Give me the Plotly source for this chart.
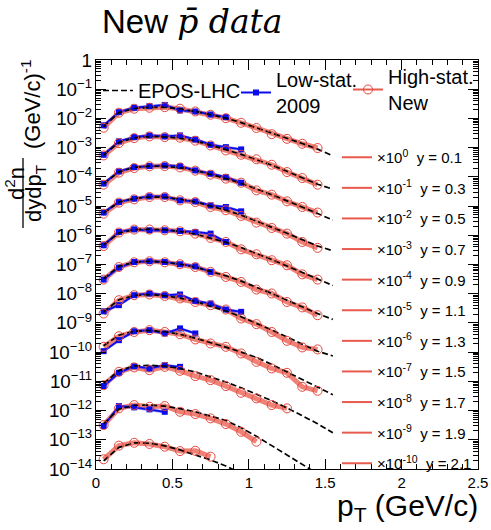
import plotly.graph_objects as go

# ---------------- data ----------------
pt_data = [0.05, 0.15, 0.25, 0.35, 0.45, 0.55, 0.65, 0.75, 0.85, 0.95,
           1.05, 1.15, 1.25, 1.35, 1.45]
pt_epos = [0.05, 0.15, 0.25, 0.35, 0.45, 0.55, 0.65, 0.75, 0.85, 0.95,
           1.05, 1.15, 1.25, 1.35, 1.45, 1.55]
rapidity = [0.1, 0.3, 0.5, 0.7, 0.9, 1.1, 1.3, 1.5, 1.7, 1.9, 2.1]
scale_exp = [0, -1, -2, -3, -4, -5, -6, -7, -8, -9, -10]

# High-stat. New (unscaled d2n/dydpT, one list per rapidity bin)
high_stat_new = [
    [4.8e-3, 1.57e-2, 2.15e-2, 2.32e-2, 2.43e-2, 2.15e-2, 1.73e-2, 1.34e-2, 1.02e-2, 7.1e-3, 4.7e-3, 2.9e-3, 2.0e-3, 1.36e-3, 9.7e-4],
    [5.4e-3, 1.43e-2, 2.12e-2, 2.43e-2, 2.30e-2, 2.19e-2, 1.73e-2, 1.19e-2, 8.0e-3, 5.7e-3, 4.0e-3, 2.6e-3, 1.46e-3, 9.1e-4, 5.4e-4],
    [5.4e-3, 1.39e-2, 2.0e-2, 2.29e-2, 2.34e-2, 2.11e-2, 1.63e-2, 1.19e-2, 8.7e-3, 6.3e-3, 3.45e-3, 2.46e-3, 1.45e-3, 9.3e-4, 6.0e-4],
    [5.5e-3, 1.31e-2, 1.70e-2, 2.04e-2, 2.04e-2, 1.57e-2, 1.37e-2, 9.3e-3, 7.2e-3, 4.6e-3, 2.72e-3, 1.78e-3, 1.14e-3, 5.9e-4, 3.7e-4],
    [4.3e-3, 1.24e-2, 1.57e-2, 1.57e-2, 1.48e-2, 1.37e-2, 1.14e-2, 8.1e-3, 5.9e-3, 3.3e-3, 2.24e-3, 1.40e-3, 9.4e-4, 4.6e-4, 3.05e-4],
    [3.05e-3, 8.2e-3, 1.19e-2, 1.29e-2, 1.19e-2, 1.02e-2, 8.2e-3, 5.6e-3, 3.75e-3, 2.53e-3, 1.39e-3, 1.02e-3, 5.2e-4, 3.4e-4, 1.84e-4],
    [2.1e-3, 6.0e-3, 8.9e-3, 9.4e-3, 8.4e-3, 6.9e-3, 5.2e-3, 4.05e-3, 2.88e-3, 1.42e-3, 9.1e-4, 4.9e-4, 2.44e-4, 1.45e-4, 1.24e-4],
    [1.52e-3, 3.5e-3, 4.9e-3, 5.65e-3, 4.9e-3, 4.1e-3, 2.72e-3, 1.98e-3, 1.52e-3, 9.0e-4, 4.66e-4, 2.77e-4, 1.96e-4, 6.5e-5, 4.75e-5],
    [7.4e-4, 2.12e-3, 3.0e-3, 2.43e-3, 3.14e-3, 2.30e-3, 1.51e-3, 1.10e-3, 6.9e-4, 4.06e-4, 2.61e-4, 1.54e-4, 1.19e-4],
    [3.2e-4, 1.19e-3, 1.54e-3, 1.35e-3, 1.43e-3, 9.1e-4, 7.6e-4, 5.4e-4, 3.45e-4, 1.88e-4, 8.6e-5],
    [2.15e-4, 6.3e-4, 7.9e-4, 7.2e-4, 5.8e-4, 4.1e-4, 4.2e-4, 2.64e-4],
]

# Low-stat. 2009
low_stat_2009 = [
    [5.8e-3, 1.64e-2, 2.32e-2, 2.64e-2, 2.9e-2, 1.88e-2, 1.73e-2, 1.37e-2, 1.11e-2],
    [5.7e-3, 1.64e-2, 2.30e-2, 2.62e-2, 2.43e-2, 2.62e-2, 1.91e-2, 1.26e-2, 1.04e-2, 8.7e-3],
    [5.9e-3, 1.54e-2, 2.16e-2, 2.34e-2, 2.47e-2, 2.34e-2, 1.67e-2, 1.29e-2, 9.8e-3, 6.3e-3],
    [6.0e-3, 1.37e-2, 1.80e-2, 2.15e-2, 2.15e-2, 1.57e-2, 1.45e-2, 1.06e-2, 9.3e-3, 6.6e-3],
    [4.55e-3, 1.30e-2, 1.60e-2, 1.48e-2, 1.48e-2, 1.40e-2, 1.30e-2, 1.14e-2, 5.9e-3],
    [3.05e-3, 7.85e-3, 1.22e-2, 1.29e-2, 1.22e-2, 1.02e-2, 8.7e-3, 5.6e-3],
    [2.5e-3, 4.05e-3, 8.9e-3, 1.02e-2, 8.9e-3, 9.4e-3, 5.7e-3, 4.6e-3, 2.88e-3, 2.39e-3],
    [1.08e-3, 2.57e-3, 5.2e-3, 5.65e-3, 4.36e-3, 6.5e-3, 4.36e-3],
    [6.9e-4, 1.96e-3, 3.3e-3, 2.77e-3, 3.6e-3, 3.14e-3],
    [2.95e-4, 1.43e-3, 1.29e-3, 1.10e-3, 9.1e-4],
    [],
]

# EPOS-LHC
epos_lhc = [
    [5.25e-3, 1.58e-2, 2.19e-2, 2.40e-2, 2.40e-2, 2.14e-2, 1.74e-2, 1.35e-2, 1.02e-2, 7.2e-3, 4.8e-3, 3.16e-3, 2.09e-3, 1.38e-3, 8.9e-4, 5.25e-4],
    [5.6e-3, 1.51e-2, 2.14e-2, 2.40e-2, 2.34e-2, 2.09e-2, 1.70e-2, 1.23e-2, 8.5e-3, 5.9e-3, 3.9e-3, 2.51e-3, 1.55e-3, 9.3e-4, 5.6e-4, 3.8e-4],
    [5.75e-3, 1.48e-2, 2.09e-2, 2.34e-2, 2.29e-2, 2.04e-2, 1.66e-2, 1.23e-2, 8.7e-3, 6.0e-3, 3.9e-3, 2.45e-3, 1.51e-3, 9.3e-4, 5.6e-4, 3.3e-4],
    [5.75e-3, 1.38e-2, 1.82e-2, 2.04e-2, 2.0e-2, 1.74e-2, 1.38e-2, 1.02e-2, 7.2e-3, 4.9e-3, 3.1e-3, 1.91e-3, 1.17e-3, 7.1e-4, 4.3e-4, 2.95e-4],
    [4.7e-3, 1.20e-2, 1.55e-2, 1.62e-2, 1.55e-2, 1.35e-2, 1.10e-2, 8.1e-3, 5.75e-3, 3.8e-3, 2.4e-3, 1.48e-3, 8.9e-4, 5.25e-4, 3.16e-4, 1.91e-4],
    [3.3e-3, 8.7e-3, 1.20e-2, 1.29e-2, 1.20e-2, 1.02e-2, 8.1e-3, 5.9e-3, 4.1e-3, 2.7e-3, 1.70e-3, 1.02e-3, 6.0e-4, 3.55e-4, 2.09e-4, 1.32e-4],
    [2.4e-3, 6.2e-3, 8.7e-3, 9.3e-3, 8.5e-3, 7.1e-3, 5.4e-3, 3.8e-3, 2.57e-3, 1.62e-3, 9.8e-4, 5.75e-4, 3.3e-4, 1.91e-4, 1.07e-4, 7.4e-5],
    [1.66e-3, 3.8e-3, 5.25e-3, 5.5e-3, 5.0e-3, 4.07e-3, 3.0e-3, 2.14e-3, 1.48e-3, 1.0e-3, 6.6e-4, 3.8e-4, 2.09e-4, 1.15e-4, 6.3e-5, 3.5e-5],
    [8.5e-4, 2.34e-3, 3.4e-3, 3.55e-3, 3.3e-3, 2.75e-3, 2.09e-3, 1.45e-3, 9.5e-4, 6.0e-4, 3.7e-4, 2.19e-4, 1.23e-4, 6.8e-5, 3.55e-5, 1.74e-5],
    [3.5e-4, 1.12e-3, 1.51e-3, 1.55e-3, 1.41e-3, 1.17e-3, 9.1e-4, 6.6e-4, 4.6e-4, 2.57e-4, 1.32e-4, 6.3e-5, 3.0e-5, 1.45e-5, 6.9e-6, 3.3e-6],
    [1.91e-4, 5.5e-4, 7.9e-4, 7.6e-4, 6.2e-4, 4.5e-4, 3.0e-4, 2.04e-4, 1.26e-4, 7.1e-5, 4.0e-5, 2.24e-5, 1.26e-5, 7.1e-6, 4.0e-6, 2.24e-6],
]

low_stat_sys_rel = 0.12   # width of the blue systematic band
low_stat_err_pct = 20     # blue statistical error bars (percent)

# ---------------- styling ----------------
FONT = "Liberation Sans, Arial, Helvetica, sans-serif"
RED_BAND = "rgba(238,118,106,0.92)"
RED_LINE = "rgb(232,90,78)"
RED_MK = "rgb(228,72,62)"
BLUE = "rgb(12,12,235)"
BLUE_BAND = "rgba(70,70,255,0.55)"
DASH = "6px,3px"

# plot area in pixels: x 96..478, y 60..469
L, R, T, B = 96, 13, 60, 61
W, H = 491, 530
PW, PH = W - L - R, H - T - B


def px(x):
    return (x - L) / PW


def py(y):
    return (H - B - y) / PH


fig = go.Figure()

# red (High-stat. New) thick band-like lines
for i, se in enumerate(scale_exp):
    f = 10.0 ** se
    hv = [v * f for v in high_stat_new[i]]
    fig.add_trace(go.Scatter(
        x=pt_data[:len(hv)], y=hv, mode="lines",
        line=dict(color=RED_BAND, width=5),
        showlegend=False, hoverinfo="skip"))

# blue (Low-stat. 2009) band + line + markers
for i, se in enumerate(scale_exp):
    f = 10.0 ** se
    lv = [v * f for v in low_stat_2009[i]]
    if not lv:
        continue
    lx = pt_data[:len(lv)]
    up = [v * (1 + low_stat_sys_rel) for v in lv]
    lo = [v * (1 - low_stat_sys_rel) for v in lv]
    fig.add_trace(go.Scatter(x=lx, y=up, mode="lines", line=dict(width=0, color=BLUE_BAND),
                             showlegend=False, hoverinfo="skip"))
    fig.add_trace(go.Scatter(x=lx, y=lo, mode="lines", line=dict(width=0, color=BLUE_BAND),
                             fill="tonexty", fillcolor=BLUE_BAND,
                             showlegend=False, hoverinfo="skip"))
    fig.add_trace(go.Scatter(
        x=lx, y=lv, mode="lines+markers",
        line=dict(color=BLUE, width=1.8),
        marker=dict(symbol="square", size=6, color=BLUE),
        error_y=dict(type="percent", value=low_stat_err_pct, color=BLUE, thickness=1.5, width=0),
        showlegend=False, hoverinfo="skip"))

# EPOS-LHC dashed
for i, se in enumerate(scale_exp):
    f = 10.0 ** se
    ev = [v * f for v in epos_lhc[i]]
    fig.add_trace(go.Scatter(
        x=pt_epos[:len(ev)], y=ev, mode="lines",
        line=dict(color="black", width=1.7, dash=DASH),
        showlegend=False, hoverinfo="skip"))

# red open circles
for i, se in enumerate(scale_exp):
    f = 10.0 ** se
    hv = [v * f for v in high_stat_new[i]]
    fig.add_trace(go.Scatter(
        x=pt_data[:len(hv)], y=hv, mode="markers",
        marker=dict(symbol="circle-open", size=9, color=RED_MK, line=dict(width=1)),
        showlegend=False, hoverinfo="skip"))

# legend-only entries: right-hand list of rapidity bins
for i, (yr, se) in enumerate(zip(rapidity, scale_exp)):
    fig.add_trace(go.Scatter(
        x=[None], y=[None], mode="lines",
        line=dict(color=RED_LINE, width=2),
        name="\u00d710<sup>%d</sup>\u00a0\u00a0y = %.1f" % (se, yr),
        legend="legend2", legendgroup="g%d" % i))

# legend-only entries for the top legend
fig.add_trace(go.Scatter(x=[None], y=[None], mode="lines", name="EPOS-LHC",
                         line=dict(color="black", width=1.7, dash=DASH),
                         legend="legend"))
fig.add_trace(go.Scatter(x=[None], y=[None], mode="lines+markers", name="Low-stat.<br>2009",
                         line=dict(color=BLUE, width=2),
                         marker=dict(symbol="square", size=6, color=BLUE),
                         legend="legend3"))
fig.add_trace(go.Scatter(x=[None], y=[None], mode="lines+markers", name="High-stat.<br>New",
                         line=dict(color=RED_LINE, width=2),
                         marker=dict(symbol="circle-open", size=9, color=RED_MK, line=dict(width=1)),
                         legend="legend4"))

axis_common = dict(
    showline=True, linecolor="black", linewidth=1, mirror="allticks",
    ticks="inside", ticklen=10, tickcolor="black", tickwidth=1,
    showgrid=False, zeroline=False,
    tickfont=dict(family=FONT, size=15, color="black"),
)

fig.update_xaxes(range=[0, 2.5], dtick=0.5, tick0=0,
                 minor=dict(dtick=0.1, ticks="inside", ticklen=5, tickcolor="black", showgrid=False),
                 **axis_common)
fig.update_yaxes(type="log", range=[-14, 0], dtick=1, exponentformat="power",
                 minor=dict(ticks="inside", ticklen=5, tickcolor="black", showgrid=False),
                 **axis_common)

leg_base = dict(bgcolor="rgba(0,0,0,0)", borderwidth=0, xanchor="left", yanchor="top",
                valign="middle")
fig.update_layout(
    width=W, height=H,
    margin=dict(l=L, r=R, t=T, b=B, autoexpand=False),
    paper_bgcolor="white", plot_bgcolor="white",
    font=dict(family=FONT, color="black"),
    legend=dict(x=px(98), y=py(71), font=dict(family=FONT, size=20), **leg_base),
    legend3=dict(x=px(236), y=py(60), font=dict(family=FONT, size=20), **leg_base),
    legend4=dict(x=px(348), y=py(57), font=dict(family=FONT, size=20), **leg_base),
    legend2=dict(x=px(337), y=py(141), font=dict(family=FONT, size=15),
                 traceorder="grouped", tracegroupgap=8.1, **leg_base),
)

ann = []
ann.append(dict(text='New <i><span style="font-family:DejaVu Serif">p\u0304 data</span></i>',
                x=px(100), y=py(22), xref="paper", yref="paper", xanchor="left", yanchor="middle",
                showarrow=False, font=dict(family=FONT, size=33, color="black")))
ann.append(dict(text="p<sub>T</sub> (GeV/c)", x=px(480), y=py(507), xref="paper", yref="paper",
                xanchor="right", yanchor="middle", showarrow=False,
                font=dict(family=FONT, size=30, color="black")))
ann.append(dict(text="d<sup>2</sup>n", x=px(15), y=py(184), xref="paper", yref="paper",
                xanchor="center", yanchor="middle", textangle=-90, showarrow=False,
                font=dict(family=FONT, size=22, color="black")))
ann.append(dict(text="dydp<sub>T</sub>", x=px(35), y=py(193), xref="paper", yref="paper",
                xanchor="center", yanchor="middle", textangle=-90, showarrow=False,
                font=dict(family=FONT, size=22, color="black")))
ann.append(dict(text="(GeV/c)<sup>-1</sup>", x=px(31), y=py(105), xref="paper", yref="paper",
                xanchor="center", yanchor="middle", textangle=-90, showarrow=False,
                font=dict(family=FONT, size=22, color="black")))
fig.update_layout(annotations=ann)
fig.add_shape(type="line", xref="paper", yref="paper",
              x0=px(23), x1=px(23), y0=py(158), y1=py(228),
              line=dict(color="black", width=1.3))

fig.write_html("out.html", config={"displayModeBar": False},
               post_script="document.body.style.margin='0px';")
